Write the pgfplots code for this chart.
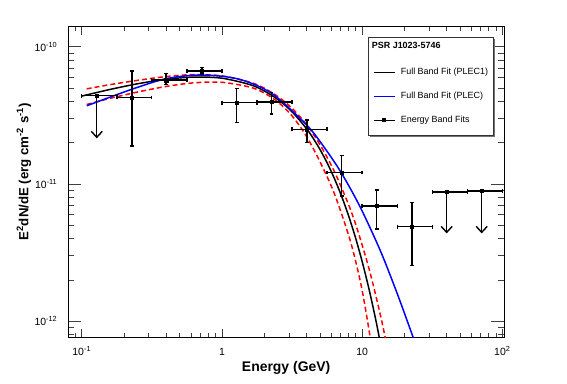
\documentclass[border=0pt]{standalone}
\usepackage{pgfplots}
\pgfplotsset{compat=1.18}
\usepackage{pgfplotstable}
\usepackage{fontspec}
\setmainfont{Liberation Sans}
\usetikzlibrary{arrows.meta}

\pgfplotstableread{
x y xm xp ym yp
0.228 4.27e-11 0.050 0.088 2.38e-11 2.38e-11
0.40 5.71e-11 0.084 0.162 0.39e-11 0.69e-11
0.718 6.68e-11 0.156 0.282 0.35e-11 0.40e-11
1.275 3.91e-11 0.275 0.503 1.10e-11 1.07e-11
2.26 3.97e-11 0.482 0.902 0.74e-11 0.68e-11
4.03 2.50e-11 0.868 1.593 0.49e-11 0.42e-11
7.14 1.21e-11 1.517 2.86 0.394e-11 0.40e-11
12.7 6.90e-12 2.7 5.08 2.21e-12 2.14e-12
22.6 4.88e-12 4.82 9.02 2.34e-12 2.46e-12
}\bandfits

\pgfplotstableread{
x y xm xp
0.128 4.40e-11 0.028 0.050
40.1 8.77e-12 8.48 16.13
71.3 8.91e-12 15.07 28.7
}\upperlimits

\pgfplotstableread{
x y
0.1 4.369e-11
0.1585 4.881e-11
0.2512 5.376e-11
0.3981 5.788e-11
0.6310 6.013e-11
1 5.902e-11
1.585 5.295e-11
1.995 4.774e-11
2.512 4.118e-11
3.162 3.360e-11
3.981 2.556e-11
4.467 2.159e-11
5.012 1.779e-11
5.623 1.427e-11
6.310 1.108e-11
7.079 8.322e-12
7.943 6.005e-12
8.913 4.146e-12
10 2.726e-12
11.22 1.696e-12
12.59 9.911e-13
14.13 5.395e-13
}\plecone

\pgfplotstableread{
x y
0.1084 4.933e-11
0.1585 5.291e-11
0.2512 5.694e-11
0.3981 6.061e-11
0.6310 6.268e-11
1 6.137e-11
1.585 5.517e-11
1.995 5.000e-11
2.512 4.332e-11
3.162 3.560e-11
3.981 2.739e-11
5.012 1.929e-11
6.310 1.244e-11
7.943 7.219e-12
8.913 5.219e-12
10 3.593e-12
11.22 2.396e-12
12.59 1.500e-12
14.13 8.954e-13
15.85 4.958e-13
}\upperband

\pgfplotstableread{
x y
0.1084 3.794e-11
0.1585 4.202e-11
0.2512 4.682e-11
0.3981 5.134e-11
0.6310 5.459e-11
1 5.508e-11
1.585 5.079e-11
1.995 4.612e-11
2.512 3.951e-11
3.162 3.136e-11
3.981 2.252e-11
5.012 1.447e-11
6.310 8.604e-12
7.943 4.350e-12
8.913 2.835e-12
10 1.681e-12
11.22 8.500e-13
12.59 3.946e-13
}\lowerband

\pgfplotstableread{
x y
0.1086 3.715e-11
0.2275 4.898e-11
0.4036 5.861e-11
0.7178 6.223e-11
1.309 5.821e-11
2.265 4.571e-11
4.027 2.685e-11
5.433 1.816e-11
7.145 1.194e-11
9.661 6.823e-12
13.43 3.296e-12
17.66 1.622e-12
22.34 8.39e-13
25.1 5.97e-13
}\plec

\begin{document}
\begin{tikzpicture}
\useasboundingbox (0,0) rectangle (567bp,384bp);
\begin{axis}[
  at={(68bp,46.3bp)}, anchor=south west,
  scale only axis, width=436.3bp, height=311bp,
  xmode=log, ymode=log,
  xmin=0.0798, xmax=103.3, ymin=7.57e-13, ymax=1.40e-10,
  axis line style={line width=0.9bp},
  tick align=inside,
  xtick={0.1,1,10,100},
  xticklabels={10\textsuperscript{-1},1,10,10\textsuperscript{2}},
  minor xtick={0.08,0.09,0.2,0.3,0.4,0.5,0.6,0.7,0.8,0.9,2,3,4,5,6,7,8,9,20,30,40,50,60,70,80,90},
  ytick={1e-12,1e-11,1e-10},
  yticklabels={10\textsuperscript{-12},10\textsuperscript{-11},10\textsuperscript{-10}},
  minor ytick={8e-13,9e-13,2e-12,3e-12,4e-12,5e-12,6e-12,7e-12,8e-12,9e-12,2e-11,3e-11,4e-11,5e-11,6e-11,7e-11,8e-11,9e-11},
  xtick style={line width=0.6bp, black!75, /pgfplots/major tick length=8.5bp, /pgfplots/minor tick length=4.3bp},
  ytick style={line width=0.6bp, black!75, /pgfplots/major tick length=13bp, /pgfplots/minor tick length=6.5bp},
  ticklabel style={font=\fontsize{10.5}{12}\selectfont},
  xticklabel style={anchor=base, yshift=-18bp},
  yticklabel style={anchor=east, inner sep=0pt, xshift=-10.5bp},
  xlabel={Energy (GeV)},
  ylabel={E\textsuperscript{2}dN/dE (erg cm\textsuperscript{-2} s\textsuperscript{-1})},
  xlabel style={at={([yshift=-30.6bp]axis description cs:0.5,0)}, anchor=center, font=\fontsize{14}{16}\selectfont\bfseries},
  ylabel style={at={([xshift=-44bp]axis description cs:0,0.533)}, anchor=center, font=\fontsize{13.3}{16}\selectfont\bfseries},
  legend style={at={(axis description cs:0.6984,0.776)}, anchor=west, draw=none, fill=none, inner sep=0pt, row sep=15.5bp, column sep=5bp, font=\fontsize{9}{11}\selectfont, nodes={inner sep=0pt, text height=6.5bp, text depth=2bp}},
  legend cell align=left,
  legend image code/.code={\draw[mark repeat=2,mark phase=2,#1] plot coordinates {(0bp,0bp) (10.8bp,0bp) (21.6bp,0bp)};},
]
\addplot[forget plot, red, line width=1.5bp, dash pattern=on 5bp off 3bp, smooth] table[x=x,y=y] {\upperband};
\addplot[forget plot, red, line width=1.5bp, dash pattern=on 5bp off 3bp, smooth] table[x=x,y=y] {\lowerband};
\addplot[forget plot, black, line width=1.5bp, smooth] table[x=x,y=y] {\plecone};
\addplot[forget plot, blue, line width=1.5bp, smooth] table[x=x,y=y] {\plec};

\addplot[forget plot, black, only marks, mark=square*, mark size=1.6bp,
  error bars/.cd, x dir=both, x explicit, y dir=both, y explicit,
  error bar style={line width=1.5bp, black},
  error mark options={rotate=90, mark size=1.9bp, line width=1.3bp, black}]
  table[x=x, y=y, x error minus=xm, x error plus=xp, y error minus=ym, y error plus=yp] {\bandfits};
\addplot[forget plot, black, only marks, mark=square*, mark size=1.6bp,
  error bars/.cd, x dir=both, x explicit,
  error bar style={line width=1.5bp, black},
  error mark options={rotate=90, mark size=1.9bp, line width=1.3bp, black}]
  table[x=x, y=y, x error minus=xm, x error plus=xp] {\upperlimits};
\addplot[forget plot, black, line width=1.4bp, -{Straight Barb[length=6bp,width=11bp]}] coordinates {(0.128,4.40e-11) (0.128,2.15e-11)};
\addplot[forget plot, black, line width=1.4bp, -{Straight Barb[length=6bp,width=11bp]}] coordinates {(40.1,8.77e-12) (40.1,4.36e-12)};
\addplot[forget plot, black, line width=1.4bp, -{Straight Barb[length=6bp,width=11bp]}] coordinates {(71.3,8.91e-12) (71.3,4.36e-12)};

\fill[black!55] ([xshift=2bp,yshift=-2bp]axis description cs:0.688,0.652) rectangle ([xshift=2bp,yshift=-2bp]axis description cs:0.975,0.967);
\draw[black!80, line width=0.6bp, fill=white] (axis description cs:0.688,0.652) rectangle (axis description cs:0.975,0.967);
\node[anchor=west, font=\fontsize{9}{11}\selectfont\bfseries, inner sep=0pt] at (axis description cs:0.696,0.939) {PSR J1023-5746};

\addlegendimage{black, line width=1.3bp}
\addlegendentry{Full Band Fit (PLEC1)}
\addlegendimage{blue, line width=1.3bp}
\addlegendentry{Full Band Fit (PLEC)}
\addlegendimage{black, line width=1.3bp, mark=square*, mark size=1.4bp}
\addlegendentry{Energy Band Fits}
\end{axis}
\end{tikzpicture}
\end{document}
